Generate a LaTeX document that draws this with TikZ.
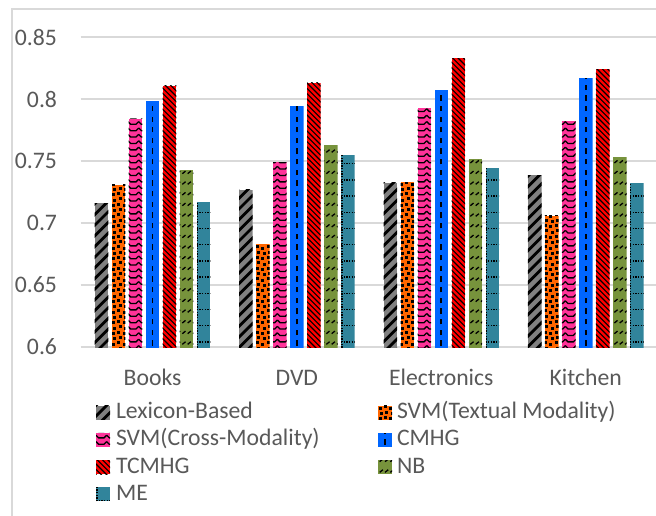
\documentclass[tikz,border=0pt]{standalone}
\usepackage{fontspec}
\setmainfont{Carlito}
\definecolor{txt}{HTML}{595959}
\definecolor{gridc}{HTML}{D9D9D9}
\definecolor{cLex}{HTML}{808080}
\definecolor{cSvt}{HTML}{FF6600}
\definecolor{cSvc}{HTML}{FF3399}
\definecolor{cCm}{HTML}{0066FF}
\definecolor{cTc}{HTML}{FF0000}
\definecolor{cNb}{HTML}{77933C}
\definecolor{cMe}{HTML}{31849B}
\def\meoff{5.8}
% #1 x left, #2 x right, #3 y top, #4 y bottom (y grows downwards)
\newcommand\pLex[4]{\begin{scope}
  \clip (#1,#3) rectangle (#2,#4);
  \fill[cLex] (#1,#3) rectangle (#2,#4);
  \pgfmathsetmacro\rs{floor((#1+#3-20)/10.667)*10.667}
  \pgfmathsetmacro\rn{\rs+10.667}
  \pgfmathsetmacro\re{#2+#4+20}
  \foreach \t in {\rs,\rn,...,\re}{\draw[black,line width=2.8] (#1-3,\t-#1+3) -- (#2+3,\t-#2-3);}
\end{scope}}
\newcommand\pSvt[4]{\begin{scope}
  \clip (#1,#3) rectangle (#2,#4);
  \fill[cSvt] (#1,#3) rectangle (#2,#4);
  \pgfmathsetmacro\rs{floor((#3-12)/10.667)*10.667}
  \pgfmathsetmacro\rn{\rs+10.667}
  \pgfmathsetmacro\cs{floor((#1-12)/10.667)*10.667}
  \pgfmathsetmacro\cn{\cs+10.667}
  \foreach \r in {\rs,\rn,...,#4}{\foreach \c in {\cs,\cn,...,#2}{
    \foreach \ox/\oy in {0/0,5.33/1.33,1.33/5.33,6.67/6.67}{
      \fill[black] (\c+\ox,\r+\oy) rectangle ++(3,3);}}}
\end{scope}}
\newcommand\pSvc[4]{\begin{scope}
  \clip (#1,#3) rectangle (#2,#4);
  \fill[cSvc] (#1,#3) rectangle (#2,#4);
  \pgfmathsetmacro\rs{floor((#3-12)/6.4)*6.4}
  \pgfmathsetmacro\rn{\rs+6.4}
  \pgfmathsetmacro\cs{floor((#1-12)/10.667)*10.667}
  \pgfmathsetmacro\cn{\cs+10.667}
  \foreach \r in {\rs,\rn,...,#4}{\foreach \c in {\cs,\cn,...,#2}{
    \draw[black,line width=1.3] (\c,\r) -- ++(2.67,2.67) -- ++(5.33,0) -- ++(2.67,-2.67);}}
\end{scope}}
\newcommand\pCm[4]{\begin{scope}
  \clip (#1,#3) rectangle (#2,#4);
  \fill[cCm] (#1,#3) rectangle (#2,#4);
  \draw[black,line width=1.7,dash pattern=on 5.33 off 5.33] ({(#1+#2)/2},#4-2) -- ({(#1+#2)/2},#3);
\end{scope}}
\newcommand\pTc[4]{\begin{scope}
  \clip (#1,#3) rectangle (#2,#4);
  \fill[cTc] (#1,#3) rectangle (#2,#4);
  \pgfmathsetmacro\rs{floor((#3-#2-20)/5.333)*5.333}
  \pgfmathsetmacro\rn{\rs+5.333}
  \pgfmathsetmacro\re{#4-#1+20}
  \foreach \t in {\rs,\rn,...,\re}{\draw[black,line width=1.1] (#1-3,\t+#1-3) -- (#2+3,\t+#2+3);}
\end{scope}}
\newcommand\pNb[4]{\begin{scope}
  \clip (#1,#3) rectangle (#2,#4);
  \fill[cNb] (#1,#3) rectangle (#2,#4);
  \pgfmathsetmacro\rs{floor((#3-12)/10.667)*10.667}
  \pgfmathsetmacro\rn{\rs+10.667}
  \pgfmathsetmacro\cs{floor((#1-12)/10.667)*10.667}
  \pgfmathsetmacro\cn{\cs+10.667}
  \foreach \r in {\rs,\rn,...,#4}{\foreach \c in {\cs,\cn,...,#2}{
    \draw[black,line width=1.3] (\c+1,\r+3) -- ++(3.2,-2.6);
    \draw[black,line width=1.3] (\c+6.33,\r+3) -- ++(3.2,-2.6);}}
\end{scope}}
\newcommand\pMe[4]{\begin{scope}
  \clip (#1,#3) rectangle (#2,#4);
  \fill[cMe] (#1,#3) rectangle (#2,#4);
  \foreach \k in {0,...,22}{\draw[black,line width=1.33,dash pattern=on 1.33 off 1.33] (#1,#4-\meoff-16.2*\k) -- (#2,#4-\meoff-16.2*\k);}
  \draw[black,line width=1.33,dash pattern=on 1.33 off 1.33] (#1+0.9,#4) -- (#1+0.9,#3);
\end{scope}}
\begin{document}
\begin{tikzpicture}[x=1pt,y=-1pt,
  lab/.style={text=txt,font=\fontsize{23.7}{28}\selectfont,inner sep=0pt,outer sep=0pt},
  ylab/.style={lab,anchor=east},
  catlab/.style={lab,anchor=base},
  leglab/.style={lab,anchor=base west},
  gridline/.style={draw=gridc,line width=1.4},
  chartframe/.style={draw=gridc,line width=1.2}]
\useasboundingbox (0,0) rectangle (656,516);
\fill[white] (0,0) rectangle (656,516);
% chart area frame
\draw[chartframe] (12,520) -- (12,9) -- (660,9);
% gridlines
\foreach \yy in {37,99,161,223,285,347}{\draw[gridline] (80.5,\yy) -- (660,\yy);}
% axis labels
\node[ylab] (y85) at (57,37) {0.85};
\node[ylab] (y80) at (57,99) {0.8};
\node[ylab] (y75) at (57,161) {0.75};
\node[ylab] (y70) at (57,223) {0.7};
\node[ylab] (y65) at (57,285) {0.65};
\node[ylab] (y60) at (57,347) {0.6};
% bars
\foreach \g/\vals in {0/{0.716,0.731,0.784,0.798,0.8105,0.743,0.717},
                      1/{0.727,0.683,0.749,0.794,0.813,0.763,0.755},
                      2/{0.7325,0.733,0.7925,0.807,0.833,0.752,0.744},
                      3/{0.7387,0.706,0.782,0.817,0.824,0.7535,0.732}}{
  \foreach \v [count=\k from 0] in \vals {
    \pgfmathsetmacro\cx{152.5+144.4*\g+(\k-3)*17}
    \pgfmathsetmacro\xa{\cx-6.8}
    \pgfmathsetmacro\xb{\cx+6.8}
    \pgfmathsetmacro\yt{347-(\v-0.6)*1240}
    \ifcase\k \pLex{\xa}{\xb}{\yt}{347.7}\or \pSvt{\xa}{\xb}{\yt}{347.7}\or \pSvc{\xa}{\xb}{\yt}{347.7}\or
      \pCm{\xa}{\xb}{\yt}{347.7}\or \pTc{\xa}{\xb}{\yt}{347.7}\or \pNb{\xa}{\xb}{\yt}{347.7}\or \pMe{\xa}{\xb}{\yt}{347.7}\fi
  }}
% category labels
\node[catlab] (cBooks) at (152.5,385) {Books};
\node[catlab] (cDVD) at (296.9,385) {DVD};
\node[catlab] (cElec) at (441.3,385) {Electronics};
\node[catlab] (cKitchen) at (585.7,385) {Kitchen};
% legend
\pLex{96}{110}{405.5}{419.5}
\node[leglab] (lLex) at (116,418.5) {Lexicon-Based};
\pSvt{378}{392}{405.5}{419.5}
\node[leglab] (lSvt) at (397,418.5) {SVM(Textual Modality)};
\pSvc{96}{110}{432.8}{446.8}
\node[leglab] (lSvc) at (116,445.8) {SVM(Cross-Modality)};
\pCm{378}{392}{432.8}{446.8}
\node[leglab] (lCm) at (397,445.8) {CMHG};
\pTc{96}{110}{460.1}{474.1}
\node[leglab] (lTc) at (116,473.1) {TCMHG};
\pNb{378}{392}{460.1}{474.1}
\node[leglab] (lNb) at (397,473.1) {NB};
\def\meoff{1}
\pMe{96}{110}{487.4}{501.4}
\node[leglab] (lMe) at (116,500.4) {ME};
\end{tikzpicture}
\end{document}
